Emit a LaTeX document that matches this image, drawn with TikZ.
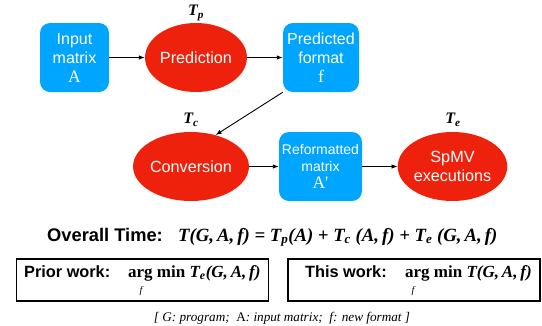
\documentclass[tikz,border=0pt]{standalone}
\usepackage{fontspec}
\setmainfont{Liberation Sans}
\newfontfamily\serifA{Liberation Serif}
\usetikzlibrary{shapes.geometric,arrows.meta}
\definecolor{kblue}{RGB}{0,165,255}
\definecolor{kred}{RGB}{238,34,12}
\tikzset{
  bluebox/.style={fill=kblue, rounded corners=10pt, text=white, align=center, inner sep=0pt,
    font=\fontsize{16pt}{19pt}\selectfont},
  redell/.style={ellipse, fill=kred, text=white, align=center, inner sep=0pt,
    minimum height=69pt, font=\fontsize{16.2pt}{19pt}\selectfont},
  arr/.style={-{Latex[length=6pt,width=4.5pt]}, line width=0.9pt, black},
  tlabel/.style={font=\fontsize{16pt}{18pt}\selectfont\serifA\bfseries\itshape, inner sep=0pt},
  frame/.style={draw, line width=1.1pt, minimum width=252pt, minimum height=42pt, inner sep=0pt},
  head/.style={font=\fontsize{16.3pt}{18pt}\selectfont\bfseries, inner sep=0pt},
  expr/.style={font=\fontsize{17pt}{18pt}\selectfont\serifA\bfseries, inner sep=0pt},
  sub/.style={font=\fontsize{10pt}{12pt}\selectfont\serifA\itshape, inner sep=0pt},
  letter/.style={font=\fontsize{17.5pt}{19pt}\selectfont\serifA}
}
\begin{document}
\begin{tikzpicture}[x=1pt,y=-1pt]
\useasboundingbox[fill=white] (0,0) rectangle (542,325);
% top row
\node[bluebox, minimum width=69pt, minimum height=69pt] (inA) at (74.5,57.5)
  {Input\\matrix\\{\fontsize{17.5pt}{19pt}\selectfont\serifA A}};
\node[redell, minimum width=98pt] (pred) at (196,57.5) {Prediction};
\node[bluebox, minimum width=76pt, minimum height=69pt] (fmt) at (321,57.5)
  {Predicted\\format\\{\fontsize{17.5pt}{19pt}\selectfont\serifA f}};
\node[tlabel] (tp) at (196,13) {T\textsubscript{p}};
% second row
\node[redell, minimum width=98pt] (conv) at (191,166.5) {Conversion};
\node[bluebox, minimum width=83pt, minimum height=69pt,
  font=\fontsize{14pt}{17pt}\selectfont] (ref) at (320.5,166.5)
  {Reformatted\\matrix\\{\fontsize{17.5pt}{20pt}\selectfont\serifA A'}};
\node[redell, minimum width=109pt] (spmv) at (452.5,166.5) {SpMV\\executions};
\node[tlabel] (tc) at (191,120) {T\textsubscript{c}};
\node[tlabel] (te) at (453,120) {T\textsubscript{e}};
% connectors
\draw[arr] (inA.east) -- (pred.west);
\draw[arr] (pred.east) -- (fmt.west);
\draw[arr] (fmt.south west) -- (conv.52);
\draw[arr] (conv.east) -- (ref.west);
\draw[arr] (ref.east) -- (spmv.west);
% overall time
\node[font=\fontsize{18.3pt}{20pt}\selectfont\bfseries, inner sep=0pt, anchor=base west] (ot) at (47,241) {Overall Time:};
\node[font=\fontsize{18.7pt}{20pt}\selectfont\serifA\bfseries\itshape, inner sep=0pt, anchor=base west] (form) at (178,241)
  {T(G,\,A,\,f) = T\textsubscript{p}(A) + T\textsubscript{c} (A,\,f) + T\textsubscript{e} (G,\,A,\,f)};
% boxes
\node[frame] (prior) at (142.5,280) {};
\node[frame] (this) at (414,280) {};
\node[head, anchor=base west] (pw) at (24,277) {Prior work:};
\node[expr, anchor=base west] (pe) at (128,277) {arg min \textit{T\textsubscript{e}(G,\,A,\,f)}};
\node[sub] (pf) at (141,291) {f};
\node[head, anchor=base west] (tw) at (305,277) {This work:};
\node[expr, anchor=base west] (te2) at (405,277) {arg min \textit{T(G,\,A,\,f)}};
\node[sub] (tf) at (413,291) {f};
% footnote
\node[font=\fontsize{13.2pt}{15pt}\selectfont\serifA\itshape, inner sep=0pt] (fn) at (282,318)
  {[ G: program;\ \ \textup{A}: input matrix;\ \ f: new format ]};
\end{tikzpicture}
\end{document}
